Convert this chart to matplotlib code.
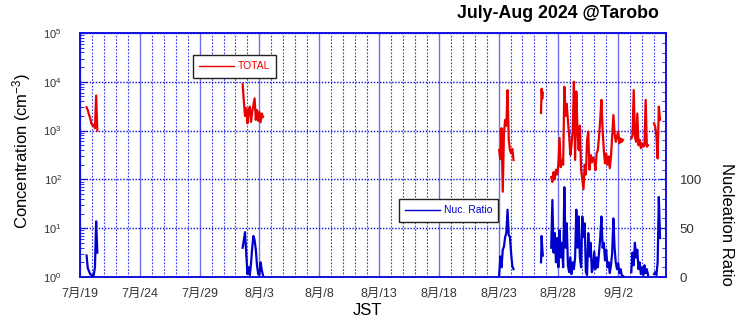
import numpy as np
import matplotlib
matplotlib.use('Agg')
import matplotlib.pyplot as plt
import matplotlib.dates as mdates
from matplotlib.ticker import FixedLocator, MultipleLocator, LogLocator, NullFormatter

plt.rcParams['font.family'] = ['Liberation Sans', 'Noto Sans CJK JP']
plt.rcParams['mathtext.fontset'] = 'custom'
plt.rcParams['mathtext.rm'] = 'Liberation Sans'
plt.rcParams['mathtext.it'] = 'Liberation Sans:italic'
plt.rcParams['mathtext.bf'] = 'Liberation Sans:bold'

nan = np.nan

# ---------------- data (day offsets from 2024-07-19 00:00 JST) ----------------
seg1_t0, seg1_dt = 0.55, 0.1
seg1_total = [3000, 2630, 2140, 1820, 1410, 1260, 1320, 1120, 5250, 1000]
seg1_ratio = [22, 9, 6, 3, 2, 1, 2, 10, 57, 25]

seg2_t0, seg2_dt = 13.6, 0.1
seg2_total = [8900, 3980, 2000, 2880, 1410, 2510, 3090, 1510, 2450, 3310,
              4570, 1660, 2630, 1580, 2400, 1480, 2240, 1900]
seg2_ratio = [30, 38, 46, 24, 3, 10, 2, 14, 30, 42, 38, 28, 12, 3, 2, 15, 7, 2]

seg3_t0, seg3_dt = 35.05, 0.1
seg3_total = [400, 260, 1120, 56, 890, 1660, 1260, 6760, 650, 400, 340, 420, 250]
seg3_ratio = [2, 21, 10, 28, 31, 41, 45, 69, 43, 41, 24, 11, 8]

seg4_t0, seg4_dt = 38.55, 0.05
seg4_total = [2300, 7200, 4500, 6000]
seg4_ratio = [15, 42, 30, 22]

seg5_t0, seg5_dt = 39.4, 0.1
seg5_total = [112, 89, 141, 100, 158, 126, 200, 708, 178, 251,
              200, 7940, 2000, 3550, 1580, 794, 316, 501, 1000, 10000,
              251, 6310, 1000, 398, 1260, 158, 100, 63, 200, 126,
              631, 955, 158, 316, 224,
              282, 251, 155, 339, 398, 759, 1660, 4270, 1020, 398,
              214, 339, 200, 295, 170, 295, 759, 2090, 871, 589,
              759, 955, 550, 692, 589, 646,
              nan, nan, nan, nan, nan, nan,
              692, 813, 6760, 759, 589, 2240, 501, 646, 437, 550,
              468, 501, 4270, 468, 501,
              nan, nan, nan, nan,
              1410, 1200, 759, 269, 3090, 1660]
seg5_ratio = [30, 79, 25, 45, 15, 40, 10, 48, 20, 35,
              10, 92, 30, 55, 12, 5, 20, 3, 15, 8,
              20, 69, 30, 62, 20, 10, 62, 41, 55, 5,
              2, 45, 21, 35, 5,
              10, 26, 8, 20, 10, 25, 40, 62, 30, 35,
              17, 28, 10, 15, 4, 12, 25, 60, 30, 15,
              8, 14, 4, 8, 2, 1,
              nan, nan, nan, nan, nan, nan,
              5, 25, 12, 35, 20, 28, 8, 15, 3, 10,
              2, 12, 4, 8, 2,
              nan, nan, nan, nan,
              3, 5, 2, 15, 82, 40]

start_date = '2024-07-19'
end_date = '2024-09-06'
tick_dates = ['2024-07-19', '2024-07-24', '2024-07-29', '2024-08-03', '2024-08-08',
              '2024-08-13', '2024-08-18', '2024-08-23', '2024-08-28', '2024-09-02']
tick_labels = ['7月/19', '7月/24', '7月/29', '8月/3', '8月/8',
               '8月/13', '8月/18', '8月/23', '8月/28', '9月/2']
ratio_ticks = [0, 50, 100]

# ---------------- assemble ----------------
segments = [(seg1_t0, seg1_dt, seg1_total, seg1_ratio),
            (seg2_t0, seg2_dt, seg2_total, seg2_ratio),
            (seg3_t0, seg3_dt, seg3_total, seg3_ratio),
            (seg4_t0, seg4_dt, seg4_total, seg4_ratio),
            (seg5_t0, seg5_dt, seg5_total, seg5_ratio)]
base = mdates.date2num(np.datetime64(start_date))
xs, tot, rat = [], [], []
for t0, dt, tv, rv in segments:
    n = len(tv)
    xs.extend(list(base + t0 + dt * np.arange(n)) + [nan])
    tot.extend(list(tv) + [nan])
    rat.extend(list(rv) + [nan])
xs = np.array(xs); tot = np.array(tot, dtype=float); rat = np.array(rat, dtype=float)

# ---------------- figure ----------------
W, H = 735, 319
fig = plt.figure(figsize=(W / 100, H / 100), dpi=100)
ax = fig.add_axes([80 / W, 42 / H, 586 / W, 244 / H])
ax2 = ax.twinx()

spine_c = '#1010e0'
red = '#e80000'
blue = '#0000cc'
lab_c = '#333333'

l1, = ax.plot(xs, tot, color=red, lw=1.6, label='TOTAL', zorder=3)
l2, = ax2.plot(xs, rat, color=blue, lw=1.6, label='Nuc. Ratio', zorder=3)

ax.set_yscale('log')
ax.set_ylim(1, 1e5)
ax.set_xlim(base, mdates.date2num(np.datetime64(end_date)))
ax2.set_ylim(0, 250)

ax.yaxis.set_major_locator(LogLocator(base=10, numticks=10))
ax.yaxis.set_minor_locator(LogLocator(base=10, subs=np.arange(2, 10), numticks=10))
ax.yaxis.set_minor_formatter(NullFormatter())
ax.xaxis.set_major_locator(FixedLocator(mdates.date2num(np.array(tick_dates, dtype='datetime64[D]'))))
ax.set_xticklabels(tick_labels)
ax.xaxis.set_minor_locator(MultipleLocator(1))

ax2.yaxis.set_major_locator(FixedLocator(ratio_ticks))
ax2.yaxis.set_minor_locator(MultipleLocator(10))

ax.tick_params(axis='y', which='major', direction='in', length=5, color=spine_c,
               labelsize=8, labelcolor=lab_c, pad=13, right=False)
ax.tick_params(axis='y', which='minor', direction='in', length=3, color=spine_c, right=False)
ax.tick_params(axis='x', which='both', direction='in', length=0, labelsize=9,
               labelcolor=lab_c, pad=8)
ax2.tick_params(axis='y', which='major', direction='in', length=5, color=spine_c,
                labelsize=9.5, labelcolor=lab_c, pad=10)
ax2.tick_params(axis='y', which='minor', direction='in', length=3, color=spine_c)

for a in (ax, ax2):
    for s in a.spines.values():
        s.set_color(spine_c)
        s.set_linewidth(1.2)

ax.set_axisbelow(True)
ax.grid(True, which='major', axis='x', color='#6f6ff0', ls='-', lw=1.0)
ax.grid(True, which='minor', axis='x', color='#3535f0', ls=(0, (1.5, 1.5)), lw=0.8)
ax.grid(True, which='major', axis='y', color='#0a0ae0', ls=(0, (1, 1.2)), lw=1.0)

ax.set_ylabel('Concentration (cm$^{-3}$)', fontsize=12)
ax.yaxis.set_label_coords((33 - 80) / 586, 0.516)
ax2.set_ylabel('Nucleation Ratio', fontsize=12, rotation=270, va='center')
ax2.yaxis.set_label_coords((726 - 80) / 586, 0.215)
ax.set_xlabel('JST', fontsize=12)
ax.xaxis.set_label_coords(0.49, (277 - 303) / 244)

fig.text(659 / W, 1 - 14 / H, 'July-Aug 2024 @Tarobo', ha='right', va='center',
         fontsize=12.8, fontweight='bold')

leg_kw = dict(loc='upper left', bbox_transform=fig.transFigure, borderaxespad=0,
              fontsize=7.5, frameon=True, fancybox=False, edgecolor='#222222',
              framealpha=1, handlelength=3.3, handletextpad=0.4, borderpad=0.6,
              labelcolor='linecolor')
leg1 = ax.legend(handles=[l1], bbox_to_anchor=(193 / W, 1 - 55 / H), **leg_kw)
leg1.get_frame().set_linewidth(1.0)
for ln in leg1.get_lines():
    ln.set_linewidth(1.0)
leg2 = ax2.legend(handles=[l2], bbox_to_anchor=(399 / W, 1 - 199 / H), **leg_kw)
leg2.get_frame().set_linewidth(1.0)
for ln in leg2.get_lines():
    ln.set_linewidth(1.0)

fig.savefig('out.png', dpi=100)
